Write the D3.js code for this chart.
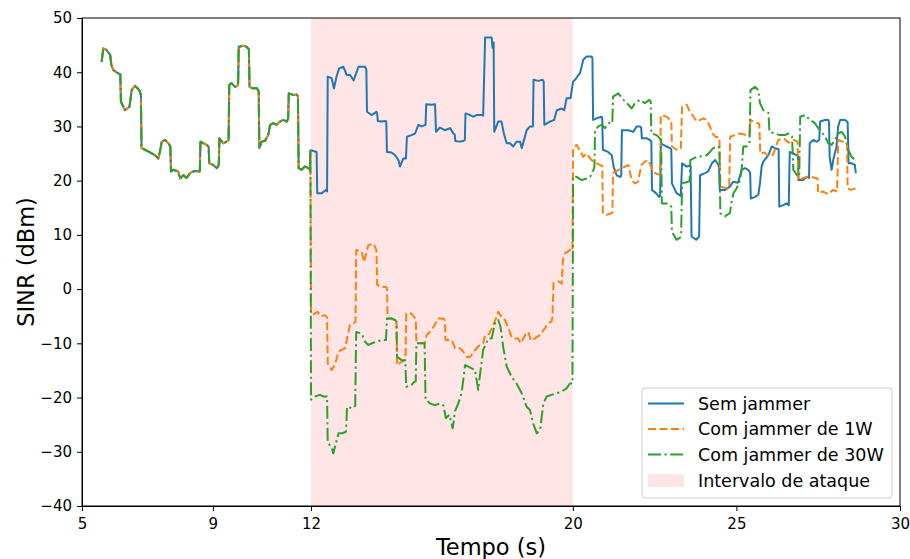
<!DOCTYPE html>
<html lang="pt">
<head>
    <meta charset="UTF-8">
    <title>SINR com e sem jammer</title>
    <script src="https://d3js.org/d3.v7.min.js"></script>
    <style>
        body { margin: 0; background: #fff; }
        svg { display: block; font-family: "DejaVu Sans", sans-serif; }
        .eixo path, .eixo line { stroke: #000; }
    </style>
</head>
<body>
<script>
    /* trecho antes do ataque: as três curvas são iguais */
    const trechoComum = [
        [5.60,41.9],[5.65,44.4],[5.75,44.1],[5.86,43.2],[5.90,41.3],[5.96,40.4],[6.11,39.8],[6.17,39.6],
        [6.19,34.6],[6.31,33.0],[6.45,33.6],[6.52,36.7],[6.62,37.5],[6.75,36.7],[6.80,35.8],[6.82,26.0],
        [6.93,25.7],[7.08,25.2],[7.23,24.7],[7.33,24.1],[7.38,25.3],[7.44,27.2],[7.54,27.5],[7.64,26.9],
        [7.70,26.3],[7.72,21.7],[7.79,22.0],[7.94,21.7],[8.0,20.4],[8.1,21.0],[8.2,20.5],[8.3,21.4],
        [8.4,21.7],[8.5,21.8],[8.60,21.7],[8.62,27.2],[8.71,26.9],[8.81,26.6],[8.87,26.3],[8.89,23.2],
        [9.01,22.9],[9.12,22.3],[9.18,22.9],[9.20,27.8],[9.32,26.9],[9.42,27.2],[9.48,27.5],[9.50,37.6],
        [9.57,38.0],[9.68,37.3],[9.77,37.6],[9.79,44.7],[9.93,44.9],[10.03,44.7],[10.10,44.2],[10.12,37.3],
        [10.24,37.0],[10.34,37.1],[10.40,36.5],[10.42,26.0],[10.49,27.2],[10.59,27.3],[10.69,28.4],[10.75,30.3],
        [10.85,30.6],[10.95,30.3],[11.05,30.9],[11.15,31.2],[11.26,30.9],[11.30,31.5],[11.32,36.1],[11.46,35.8],
        [11.56,35.9],[11.60,35.5],[11.62,22.3],[11.71,22.0],[11.81,22.6],[11.92,22.3],[11.96,22.0],[11.98,25.5]
    ];

    const semJammer = [
        [12.0,25.6],[12.17,25.3],[12.19,17.7],[12.33,17.7],[12.46,18.3],[12.49,18.0],[12.51,39.2],[12.63,38.9],
        [12.70,37.0],[12.78,39.2],[12.86,40.7],[12.99,41.0],[13.09,39.5],[13.19,39.5],[13.30,38.5],[13.45,41.0],
        [13.65,41.0],[13.69,40.5],[13.71,32.7],[13.85,32.1],[14.0,32.7],[14.02,32.4],[14.04,31.0],[14.16,30.9],
        [14.29,31.0],[14.30,30.8],[14.32,25.3],[14.46,25.2],[14.57,24.7],[14.67,23.8],[14.72,22.6],[14.82,24.1],
        [14.90,24.1],[14.93,28.1],[15.07,28.4],[15.18,28.7],[15.28,30.3],[15.38,30.0],[15.50,30.3],[15.52,34.1],
        [15.69,34.0],[15.79,34.1],[15.82,29.0],[15.94,29.8],[16.09,29.3],[16.25,29.7],[16.35,28.7],[16.39,28.5],
        [16.41,27.3],[16.55,27.2],[16.65,27.3],[16.70,27.5],[16.72,32.4],[16.86,32.1],[16.96,31.8],[17.06,32.1],
        [17.22,32.1],[17.26,32.0],[17.32,46.4],[17.52,46.4],[17.55,44.5],[17.58,45.5],[17.60,29.0],[17.72,30.9],
        [17.82,30.9],[17.90,28.5],[17.98,26.9],[18.08,26.9],[18.18,26.3],[18.28,27.2],[18.39,27.2],[18.44,26.0],
        [18.59,29.3],[18.69,30.0],[18.78,30.0],[18.80,38.6],[18.95,38.4],[19.08,38.6],[19.11,38.3],[19.13,30.3],
        [19.30,30.9],[19.43,31.2],[19.51,33.0],[19.66,33.3],[19.74,33.0],[19.81,35.2],[19.93,35.2],[20.01,38.3],
        [20.07,38.6],[20.17,39.5],[20.22,39.8],[20.32,42.3],[20.42,42.9],[20.58,42.9],[20.60,42.5],[20.62,31.2],
        [20.73,31.5],[20.88,31.8],[20.90,31.5],[20.92,25.7],[21.08,25.3],[21.19,24.7],[21.25,22.5],[21.34,21.0],
        [21.44,20.7],[21.48,20.9],[21.50,29.3],[21.70,29.3],[21.85,29.0],[21.95,30.0],[22.05,30.0],[22.09,29.8],
        [22.11,27.8],[22.26,27.8],[22.36,27.5],[22.40,27.2],[22.42,18.3],[22.54,17.7],[22.64,17.0],[22.67,17.3],
        [22.69,26.9],[22.87,26.3],[22.97,26.0],[23.01,25.8],[23.03,19.5],[23.17,17.7],[23.30,17.2],[23.34,23.2],
        [23.48,22.6],[23.60,22.8],[23.63,9.7],[23.77,9.1],[23.86,9.7],[23.89,21.0],[24.04,21.4],[24.14,21.7],
        [24.25,23.2],[24.35,23.8],[24.45,22.9],[24.47,22.5],[24.49,18.3],[24.65,18.3],[24.80,18.9],[24.90,19.8],
        [25.05,19.6],[25.16,22.0],[25.26,22.3],[25.36,22.0],[25.42,21.5],[25.44,16.7],[25.57,17.0],[25.67,17.4],
        [25.72,19.5],[25.77,22.6],[25.82,23.5],[25.98,24.7],[26.08,26.3],[26.18,26.0],[26.29,25.8],[26.31,15.2],
        [26.43,15.5],[26.53,15.8],[26.60,15.5],[26.63,25.3],[26.74,25.0],[26.84,24.7],[26.88,24.5],[26.90,20.1],
        [27.04,20.1],[27.15,20.7],[27.22,20.5],[27.24,26.9],[27.35,27.5],[27.45,27.2],[27.53,27.5],[27.56,30.9],
        [27.71,31.2],[27.81,31.2],[27.83,30.8],[27.85,24.4],[27.91,22.0],[27.96,23.8],[28.06,26.3],[28.11,30.0],
        [28.17,31.2],[28.32,31.2],[28.40,30.8],[28.43,23.2],[28.52,23.2],[28.62,22.9],[28.65,21.4]
    ];

    const jammer1W = [
        [12.0,-4.5],[12.04,-4.8],[12.2,-4.2],[12.3,-5.0],[12.43,-4.8],[12.49,-5.2],[12.51,-13.7],[12.63,-14.9],
        [12.73,-14.0],[12.84,-11.5],[12.94,-11.2],[13.04,-10.9],[13.09,-9.4],[13.19,-6.6],[13.31,-6.3],[13.36,-6.0],
        [13.38,7.2],[13.55,6.9],[13.62,5.0],[13.75,8.1],[13.90,8.4],[13.98,7.5],[14.0,7.0],[14.02,0.8],
        [14.16,0.4],[14.29,0.4],[14.32,0.2],[14.34,-5.4],[14.46,-5.4],[14.55,-5.8],[14.61,-5.7],[14.63,-14.0],
        [14.77,-13.4],[14.87,-13.1],[14.89,-12.5],[14.91,-4.5],[15.07,-4.5],[15.15,-5.2],[15.20,-5.5],[15.22,-9.7],
        [15.33,-10.0],[15.48,-10.0],[15.53,-8.5],[15.69,-7.5],[15.84,-6.0],[15.89,-5.4],[16.04,-5.4],[16.09,-5.8],
        [16.11,-9.4],[16.30,-9.4],[16.40,-10.9],[16.55,-10.9],[16.65,-11.5],[16.76,-12.5],[16.86,-12.5],[17.06,-10.9],
        [17.16,-10.3],[17.26,-10.0],[17.32,-8.5],[17.45,-8.2],[17.57,-6.6],[17.67,-5.1],[17.72,-4.2],[17.82,-5.1],
        [17.93,-5.7],[18.03,-7.2],[18.13,-8.8],[18.23,-9.1],[18.33,-9.1],[18.41,-10.0],[18.54,-8.5],[18.64,-7.9],
        [18.72,-9.5],[18.84,-9.1],[18.99,-8.5],[19.15,-7.2],[19.25,-6.3],[19.35,-6.0],[19.38,-5.0],[19.41,1.1],
        [19.56,1.4],[19.66,1.0],[19.70,5.5],[19.76,6.6],[19.91,7.2],[19.97,7.8],[19.99,7.5],[20.01,26.0],
        [20.12,26.6],[20.22,25.5],[20.32,24.4],[20.42,25.0],[20.53,24.1],[20.63,23.5],[20.73,23.2],[20.83,22.9],
        [20.90,22.7],[20.92,14.0],[21.03,13.7],[21.19,14.0],[21.21,14.2],[21.23,21.4],[21.39,22.0],[21.50,22.3],
        [21.60,22.6],[21.70,22.9],[21.80,20.1],[21.90,19.5],[21.99,19.8],[22.10,22.9],[22.20,23.5],[22.31,23.8],
        [22.41,22.3],[22.51,21.4],[22.60,21.2],[22.67,21.0],[22.69,32.1],[22.87,31.8],[22.97,31.2],[23.01,31.0],
        [23.03,26.3],[23.17,25.7],[23.30,25.8],[23.34,33.6],[23.48,34.0],[23.58,32.7],[23.69,31.8],[23.79,30.9],
        [23.89,31.2],[23.99,31.5],[24.09,31.2],[24.19,30.0],[24.27,28.7],[24.35,28.1],[24.48,28.0],[24.51,18.9],
        [24.70,18.6],[24.78,18.8],[24.81,28.1],[24.96,28.4],[25.10,28.7],[25.25,28.5],[25.40,28.2],[25.43,31.2],
        [25.55,30.8],[25.70,30.5],[25.73,25.0],[25.85,25.2],[26.0,24.5],[26.12,24.8],[26.28,27.5],[26.45,27.8],
        [26.60,27.0],[26.75,27.5],[26.87,27.2],[26.89,20.1],[27.05,20.5],[27.2,20.8],[27.35,20.6],[27.48,20.4],
        [27.50,17.7],[27.65,18.0],[27.8,17.5],[27.95,18.3],[28.08,18.0],[28.11,27.5],[28.25,27.2],[28.38,27.0],
        [28.40,18.6],[28.5,18.3],[28.65,18.6]
    ];

    const jammer30W = [
        [12.0,-20.4],[12.12,-19.8],[12.27,-19.5],[12.38,-19.8],[12.49,-19.8],[12.51,-28.4],[12.63,-29.1],[12.68,-30.3],
        [12.73,-29.1],[12.84,-26.6],[12.94,-26.6],[13.07,-26.3],[13.10,-21.7],[13.27,-22.0],[13.35,-21.5],[13.38,-7.9],
        [13.55,-8.2],[13.65,-9.7],[13.75,-10.3],[13.85,-10.0],[14.0,-9.7],[14.16,-9.4],[14.29,-9.4],[14.32,-5.4],
        [14.46,-5.4],[14.57,-5.7],[14.61,-6.0],[14.63,-12.5],[14.77,-13.1],[14.88,-13.1],[14.91,-18.0],[15.07,-17.7],
        [15.15,-17.1],[15.20,-17.0],[15.22,-10.0],[15.35,-10.0],[15.47,-10.0],[15.50,-20.4],[15.64,-21.1],[15.79,-21.4],
        [15.94,-21.1],[16.05,-21.5],[16.12,-23.8],[16.23,-23.2],[16.33,-25.7],[16.40,-22.5],[16.50,-21.1],[16.60,-19.2],
        [16.71,-14.0],[16.81,-14.3],[16.91,-14.6],[17.01,-14.9],[17.11,-18.6],[17.18,-15.0],[17.26,-11.2],[17.42,-9.1],
        [17.52,-9.1],[17.62,-6.3],[17.72,-5.7],[17.79,-6.9],[17.87,-10.6],[17.98,-14.3],[18.13,-16.2],[18.28,-17.4],
        [18.44,-19.2],[18.59,-21.7],[18.69,-22.3],[18.79,-24.8],[18.90,-26.6],[19.0,-26.0],[19.10,-21.1],[19.20,-19.8],
        [19.35,-19.5],[19.51,-19.2],[19.66,-18.9],[19.81,-18.3],[19.91,-17.4],[19.99,-17.4],[20.01,20.7],[20.12,20.7],
        [20.27,20.1],[20.42,20.4],[20.53,20.7],[20.63,22.0],[20.66,22.5],[20.68,29.3],[20.78,30.0],[20.88,30.3],
        [20.98,29.7],[21.10,30.5],[21.19,31.2],[21.21,31.0],[21.23,35.5],[21.39,36.1],[21.55,34.9],[21.70,34.0],
        [21.80,33.3],[21.90,34.3],[22.05,34.9],[22.20,34.3],[22.34,34.9],[22.38,34.6],[22.40,28.7],[22.56,28.4],
        [22.66,27.8],[22.70,27.5],[22.72,15.8],[22.87,15.8],[22.97,15.5],[23.01,15.2],[23.03,10.6],[23.17,9.1],
        [23.28,9.5],[23.31,9.8],[23.34,19.5],[23.53,19.8],[23.57,20.0],[23.59,23.8],[23.79,24.4],[23.95,24.5],
        [24.09,24.7],[24.19,25.3],[24.29,26.0],[24.45,26.3],[24.48,26.0],[24.51,14.0],[24.65,13.4],[24.80,14.0],
        [24.85,16.0],[24.91,17.7],[25.0,18.5],[25.11,20.1],[25.16,22.0],[25.21,26.3],[25.31,26.3],[25.40,26.8],
        [25.43,36.7],[25.57,37.3],[25.67,36.7],[25.72,34.3],[25.82,33.0],[25.92,32.7],[25.98,32.5],[26.01,29.0],
        [26.18,28.7],[26.33,28.4],[26.48,28.4],[26.58,28.7],[26.70,28.2],[26.74,22.0],[26.89,20.7],[26.92,21.0],
        [26.95,31.8],[27.10,32.1],[27.25,31.2],[27.40,30.6],[27.50,29.7],[27.60,29.0],[27.71,28.1],[27.81,26.9],
        [27.91,26.6],[28.01,27.5],[28.11,28.7],[28.22,29.0],[28.32,28.1],[28.42,25.7],[28.52,24.4],[28.62,23.8]
    ];

    const intervaloAtaque = [12, 20];
    const ticksX = [5, 9, 12, 20, 25, 30];
    const ticksY = [-40, -30, -20, -10, 0, 10, 20, 30, 40, 50];

    const series = [
        { nome: "Sem jammer", cor: "#1f77b4", traco: null, dados: trechoComum.concat(semJammer) },
        { nome: "Com jammer de 1W", cor: "#ff7f0e", traco: "8,3.5", dados: trechoComum.concat(jammer1W) },
        { nome: "Com jammer de 30W", cor: "#2ca02c", traco: "13,3.5,2.2,3.5", dados: trechoComum.concat(jammer30W) }
    ];

    /* área do gráfico */
    const largura = 910, altura = 559;
    const esq = 82, dir = 900, topo = 18, base = 506;

    const svg = d3.select("body").append("svg")
        .attr("width", largura)
        .attr("height", altura);

    const x = d3.scaleLinear().domain([5, 30]).range([esq, dir]);
    const y = d3.scaleLinear().domain([-40, 50]).range([base, topo]);

    // faixa do ataque
    svg.append("rect")
        .attr("x", x(intervaloAtaque[0]))
        .attr("y", topo)
        .attr("width", x(intervaloAtaque[1]) - x(intervaloAtaque[0]))
        .attr("height", base - topo)
        .attr("fill", "#ff0000")
        .attr("fill-opacity", 0.1);

    const linha = d3.line()
        .x(d => x(d[0]))
        .y(d => y(d[1]));

    series.forEach(s => {
        svg.append("path")
            .datum(s.dados)
            .attr("d", linha)
            .attr("fill", "none")
            .attr("stroke", s.cor)
            .attr("stroke-width", 2)
            .attr("stroke-linejoin", "round")
            .attr("stroke-dasharray", s.traco);
    });

    // eixos
    const eixoX = d3.axisBottom(x)
        .tickValues(ticksX)
        .tickFormat(d3.format("d"))
        .tickSizeInner(5)
        .tickSizeOuter(0)
        .tickPadding(7);
    const gX = svg.append("g")
        .attr("class", "eixo")
        .attr("transform", `translate(0, ${base})`)
        .call(eixoX);

    const eixoY = d3.axisLeft(y)
        .tickValues(ticksY)
        .tickFormat(d => d < 0 ? "\u2212" + Math.abs(d) : d)
        .tickSizeInner(5)
        .tickSizeOuter(0)
        .tickPadding(5);
    const gY = svg.append("g")
        .attr("class", "eixo")
        .attr("transform", `translate(${esq}, 0)`)
        .call(eixoY);

    [gX, gY].forEach(g => {
        g.selectAll("text")
            .attr("fill", "#000")
            .style("font-family", "'DejaVu Sans', sans-serif")
            .style("font-size", "15px");
    });

    // moldura
    svg.append("rect")
        .attr("x", esq).attr("y", topo)
        .attr("width", dir - esq).attr("height", base - topo)
        .attr("fill", "none")
        .attr("stroke", "#000")
        .attr("stroke-width", 1);

    // rótulos
    svg.append("text")
        .attr("x", (esq + dir) / 2)
        .attr("y", 555)
        .attr("text-anchor", "middle")
        .style("font-size", "22.5px")
        .text("Tempo (s)");

    svg.append("text")
        .attr("transform", `translate(34, ${(topo + base) / 2}) rotate(-90)`)
        .attr("text-anchor", "middle")
        .style("font-size", "22.5px")
        .text("SINR (dBm)");

    // legenda
    const leg = svg.append("g").attr("transform", "translate(642, 388)");
    leg.append("rect")
        .attr("width", 250).attr("height", 110)
        .attr("rx", 3)
        .attr("fill", "#fff").attr("fill-opacity", 0.8)
        .attr("stroke", "#cccccc");

    const linhasLeg = [15.5, 41, 66.5, 92.5];
    series.forEach((s, i) => {
        leg.append("line")
            .attr("x1", 6).attr("x2", 42)
            .attr("y1", linhasLeg[i]).attr("y2", linhasLeg[i])
            .attr("stroke", s.cor)
            .attr("stroke-width", 2)
            .attr("stroke-dasharray", s.traco);
        leg.append("text")
            .attr("x", 56).attr("y", linhasLeg[i])
            .attr("dy", "0.35em")
            .style("font-size", "17.5px")
            .text(s.nome);
    });
    leg.append("rect")
        .attr("x", 6).attr("y", linhasLeg[3] - 6.5)
        .attr("width", 36).attr("height", 13)
        .attr("fill", "#ff0000").attr("fill-opacity", 0.1);
    leg.append("text")
        .attr("x", 56).attr("y", linhasLeg[3])
        .attr("dy", "0.35em")
        .style("font-size", "17.5px")
        .text("Intervalo de ataque");
</script>
</body>
</html>
